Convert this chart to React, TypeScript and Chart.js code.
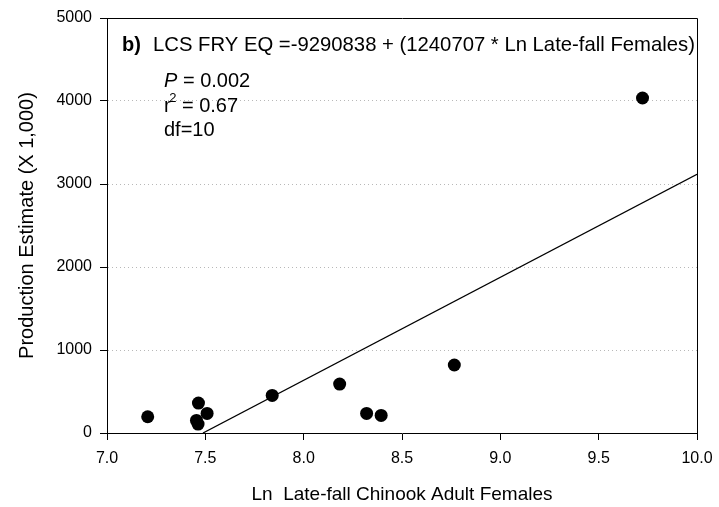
import React, { useEffect, useRef } from "react";
import { Chart, registerables } from "chart.js";

Chart.register(...registerables);

// Observed points: Ln late-fall Chinook adult females vs production estimate (x 1,000)
const lnFemales = [7.207, 7.455, 7.463, 7.465, 7.509, 7.84, 8.183, 8.32, 8.394, 8.766, 9.723];
const production = [196, 152, 108, 361, 236, 453, 590, 236, 212, 819, 4036];

// Regression line end points
const fitX = [7.488, 10.0];
const fitY = [0, 3116];

const xMin = 7.0;
const xMax = 10.0;
const xStep = 0.5;
const yMin = 0;
const yMax = 5000;
const yStep = 1000;

const equationLabel = "LCS FRY EQ =-9290838 + (1240707 * Ln Late-fall Females)";
const panelLabel = "b)";
const pValue = "0.002";
const r2Value = "0.67";
const dfLabel = "df=10";
const xTitle = "Ln  Late-fall Chinook Adult Females";
const yTitle = "Production Estimate (X 1,000)";

const SANS = "'Liberation Sans', Arial, sans-serif";

const annotationPlugin = {
  id: "annotations",
  afterDraw(chart: any) {
    const { ctx, chartArea: a } = chart;
    ctx.save();
    // frame (top and right)
    ctx.strokeStyle = "#000";
    ctx.lineWidth = 1;
    ctx.beginPath();
    const l = Math.round(a.left) + 0.5;
    const t = Math.round(a.top) + 0.5;
    const r = Math.round(a.right) + 0.5;
    const b = Math.round(a.bottom) + 0.5;
    ctx.moveTo(l, t);
    ctx.lineTo(r, t);
    ctx.lineTo(r, b);
    ctx.stroke();

    ctx.fillStyle = "#000";
    ctx.textBaseline = "middle";
    ctx.textAlign = "left";

    ctx.font = `bold 20px ${SANS}`;
    ctx.fillText(panelLabel, a.left + 15, a.top + 27);
    ctx.font = `20.3px ${SANS}`;
    ctx.fillText(equationLabel, a.left + 46, a.top + 27);

    // P line
    const x0 = a.left + 57;
    ctx.font = `italic 20px ${SANS}`;
    ctx.fillText("P", x0, a.top + 63);
    const pw = ctx.measureText("P").width;
    ctx.font = `20px ${SANS}`;
    ctx.fillText(" = " + pValue, x0 + pw, a.top + 63);

    // r^2 line
    ctx.fillText("r", x0, a.top + 88);
    const rw = ctx.measureText("r").width;
    ctx.font = `13px ${SANS}`;
    ctx.fillText("2", x0 + rw - 1.5, a.top + 80);
    const sw = ctx.measureText("2").width;
    ctx.font = `20px ${SANS}`;
    ctx.fillText(" = " + r2Value, x0 + rw - 1.5 + sw, a.top + 88);

    ctx.fillText(dfLabel, x0, a.top + 112);
    ctx.restore();
  },
};

export default function App() {
  const canvasRef = useRef<HTMLCanvasElement | null>(null);

  useEffect(() => {
    if (!canvasRef.current) return;
    const points = lnFemales.map((x, i) => ({ x, y: production[i] }));
    const fit = fitX.map((x, i) => ({ x, y: fitY[i] }));

    const chart = new Chart(canvasRef.current, {
      type: "scatter",
      data: {
        datasets: [
          {
            type: "line",
            data: fit,
            borderColor: "#000",
            borderWidth: 1.3,
            pointRadius: 0,
            fill: false,
          } as any,
          {
            data: points,
            backgroundColor: "#000",
            borderWidth: 0,
            pointRadius: 6.5,
          },
        ],
      },
      options: {
        responsive: false,
        animation: false,
        events: [],
        layout: { padding: { left: 0, right: 22, top: 18, bottom: 0 } },
        plugins: {
          legend: { display: false },
          tooltip: { enabled: false },
        },
        scales: {
          x: {
            type: "linear",
            min: xMin,
            max: xMax,
            afterFit: (s: any) => {
              s.height = 74;
              s.paddingLeft = 0;
              s.paddingRight = 0;
            },
            ticks: {
              stepSize: xStep,
              color: "#000",
              font: { family: SANS, size: 16 },
              padding: 9,
              maxRotation: 0,
              callback: (v: any) => Number(v).toFixed(1),
            },
            grid: {
              drawOnChartArea: false,
              drawTicks: true,
              tickLength: 7,
              tickColor: "#000",
              color: "#000",
            },
            border: { display: true, color: "#000", width: 1 },
            title: {
              display: true,
              text: xTitle,
              color: "#000",
              font: { family: SANS, size: 19 },
              padding: { top: 0, bottom: 1 },
            },
          },
          y: {
            type: "linear",
            min: yMin,
            max: yMax,
            afterFit: (s: any) => {
              s.width = 107;
              s.paddingTop = 0;
              s.paddingBottom = 0;
            },
            ticks: {
              stepSize: yStep,
              color: "#000",
              font: { family: SANS, size: 16 },
              padding: 8,
              callback: (v: any) => String(v),
            },
            grid: {
              drawOnChartArea: true,
              drawTicks: true,
              tickLength: 7,
              tickColor: "#000",
              tickBorderDash: [],
              color: (c: any) =>
                c.tick && (c.tick.value === yMin || c.tick.value === yMax)
                  ? "rgba(0,0,0,0)"
                  : "#b8b8b8",
              borderDash: [1, 3],
            } as any,
            border: { display: true, color: "#000", width: 1, dash: [1, 3] },
            title: {
              display: true,
              text: yTitle,
              color: "#000",
              font: { family: SANS, size: 20 },
              padding: { top: 15, bottom: 0 },
            },
          },
        },
      },
      plugins: [annotationPlugin],
    });
    return () => chart.destroy();
  }, []);

  return (
    <div style={{ position: "absolute", left: 0, top: 0, width: 719, height: 507, background: "#fff" }}>
      <canvas ref={canvasRef} width={719} height={507} />
    </div>
  );
}
